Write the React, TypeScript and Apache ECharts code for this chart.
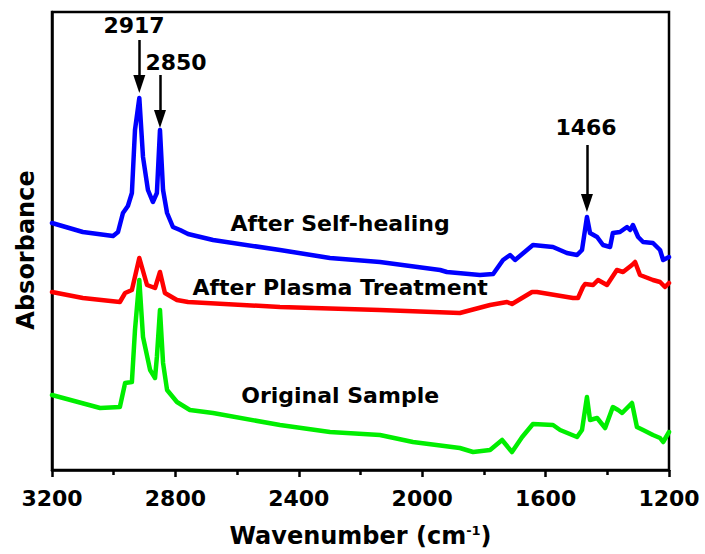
import React, { useEffect, useRef } from "react";
import * as echarts from "echarts";

// ---- data (wavenumber in cm-1, absorbance in arbitrary units) ----
const blueWave = [3200,3100,3002,2986,2970,2954,2941,2931,2917,2905,2889,2873,2860,2850,2840,2827,2808,2785,2759,2678,2461,2299,2137,1942,1920,1813,1770,1738,1715,1699,1641,1576,1531,1498,1482,1466,1456,1433,1414,1391,1382,1359,1336,1326,1317,1300,1284,1252,1229,1219,1200];
const blueAbs = [2.47,2.38,2.34,2.38,2.57,2.64,2.77,3.40,3.72,3.13,2.80,2.68,2.77,3.40,2.80,2.57,2.43,2.40,2.36,2.30,2.20,2.12,2.08,2.00,1.98,1.95,1.96,2.10,2.15,2.10,2.25,2.23,2.17,2.15,2.20,2.53,2.37,2.33,2.25,2.23,2.37,2.38,2.43,2.40,2.45,2.33,2.28,2.27,2.20,2.10,2.13];

const redWave = [3200,3100,2980,2963,2941,2917,2892,2866,2850,2834,2795,2759,2461,2137,1878,1780,1725,1709,1644,1628,1511,1495,1479,1472,1446,1430,1401,1369,1349,1320,1310,1294,1252,1229,1213,1200];
const redAbs = [1.78,1.72,1.68,1.77,1.80,2.12,1.85,1.82,1.98,1.77,1.70,1.68,1.63,1.60,1.57,1.65,1.68,1.66,1.78,1.78,1.72,1.72,1.83,1.86,1.85,1.90,1.85,2.00,1.98,2.05,2.08,1.95,1.90,1.88,1.83,1.87];

const greenWave = [3200,3044,2980,2963,2941,2931,2917,2905,2882,2866,2860,2850,2840,2827,2795,2753,2678,2461,2299,2137,2030,1878,1835,1780,1741,1709,1676,1641,1576,1553,1498,1482,1466,1456,1433,1407,1382,1365,1352,1336,1320,1304,1284,1252,1229,1219,1200];
const greenAbs = [0.75,0.62,0.63,0.87,0.88,1.40,1.90,1.33,1.00,0.92,1.13,1.60,1.07,0.80,0.68,0.60,0.57,0.45,0.38,0.35,0.28,0.22,0.18,0.20,0.30,0.18,0.33,0.46,0.45,0.40,0.33,0.40,0.73,0.50,0.52,0.42,0.63,0.60,0.57,0.62,0.67,0.43,0.40,0.35,0.32,0.28,0.38];

const seriesNames = ["After Self-healing", "After Plasma Treatment", "Original Sample"];
const seriesColors = ["#0000FF", "#FF0000", "#00EE00"];

// peak annotations
const peakLabels = ["2917", "2850", "1466"];
const peakWave = [2917, 2850, 1466];
const peakLabelPos = [[2934, 4.45], [2798, 4.08], [1469, 3.43]];
const arrowFrom = [4.30, 3.95, 3.25];
const arrowTo = [3.86, 3.51, 2.67];

// curve label anchor points
const curveLabelPos = [[2266, 2.47], [2266, 1.83], [2266, 0.75]];

const xTicks = { min: 1200, max: 3200, interval: 400 };

const FONT = "DejaVu Sans";

function pairs(w: number[], a: number[]) {
  return w.map((x, i) => [x, a[i]]);
}

export default function App() {
  const ref = useRef<HTMLDivElement>(null);

  useEffect(() => {
    document.body.style.margin = "0";
    if (!ref.current) return;
    const chart = echarts.init(ref.current, undefined, { renderer: "svg" });

    const textBase = {
      fontFamily: FONT,
      fontWeight: "bold" as const,
      color: "#000",
    };

    const curveLabel = (i: number) => ({
      symbol: "circle",
      symbolSize: 0,
      silent: true,
      label: {
        show: true,
        position: "inside",
        ...textBase,
        fontSize: 22,
        formatter: (p: any) => p.name,
      },
      data: [{ name: seriesNames[i], coord: curveLabelPos[i] }],
    });

    const datasets = [pairs(blueWave, blueAbs), pairs(redWave, redAbs), pairs(greenWave, greenAbs)];

    const series: any[] = [2, 1, 0].map((i) => ({
      type: "line",
      name: seriesNames[i],
      data: datasets[i],
      showSymbol: false,
      symbol: "none",
      lineStyle: { color: seriesColors[i], width: 4.5, join: "round", cap: "round" },
      itemStyle: { color: seriesColors[i] },
      z: 3 - i,
      markPoint: curveLabel(i),
    }));

    // annotations
    series.push({
      type: "line",
      name: "annotations",
      data: [],
      silent: true,
      markLine: {
        silent: true,
        symbol: ["none", "triangle"],
        symbolSize: [12, 18],
        lineStyle: { color: "#000", width: 2.5, type: "solid" },
        itemStyle: { color: "#000" },
        label: { show: false },
        data: peakWave.map((w, i) => [
          { coord: [w, arrowFrom[i]] },
          { coord: [w, arrowTo[i]] },
        ]),
      },
      markPoint: {
        symbol: "circle",
        symbolSize: 0,
        silent: true,
        label: {
          show: true,
          position: "inside",
          ...textBase,
          fontSize: 22,
          formatter: (p: any) => p.name,
        },
        data: peakLabels.map((n, i) => ({ name: n, coord: peakLabelPos[i] })),
      },
    });

    const option: any = {
      animation: false,
      backgroundColor: "#fff",
      grid: {
        left: 52,
        right: 36,
        top: 12,
        bottom: 84,
        show: true,
        borderColor: "#000",
        borderWidth: 2.5,
      },
      xAxis: {
        type: "value",
        inverse: true,
        min: xTicks.min,
        max: xTicks.max,
        interval: xTicks.interval,
        axisLine: { show: true, lineStyle: { color: "#000", width: 2.5 } },
        axisTick: { show: true, length: 7, lineStyle: { color: "#000", width: 2.5 } },
        minorTick: { show: true, splitNumber: 2, length: 5, lineStyle: { color: "#000", width: 2.5 } },
        splitLine: { show: false },
        axisLabel: { ...textBase, fontSize: 22, margin: 17, formatter: (v: number) => String(v) },
        name: "{a|Wavenumber (cm}{s|-1}{a|)}",
        nameLocation: "middle",
        nameGap: 54,
        nameTextStyle: {
          rich: {
            a: { ...textBase, fontSize: 24 },
            s: { ...textBase, fontSize: 13, verticalAlign: "top" },
          },
        },
      },
      yAxis: {
        type: "value",
        min: 0,
        max: 4.58,
        axisLine: { show: true, lineStyle: { color: "#000", width: 2.5 } },
        axisTick: { show: false },
        axisLabel: { show: false },
        splitLine: { show: false },
        name: "Absorbance",
        nameLocation: "middle",
        nameGap: 14,
        nameTextStyle: { ...textBase, fontSize: 24, padding: [0, 18, 0, 0] },
      },
      series,
    };

    chart.setOption(option);
    return () => chart.dispose();
  }, []);

  return <div ref={ref} style={{ width: 705, height: 554 }} />;
}
